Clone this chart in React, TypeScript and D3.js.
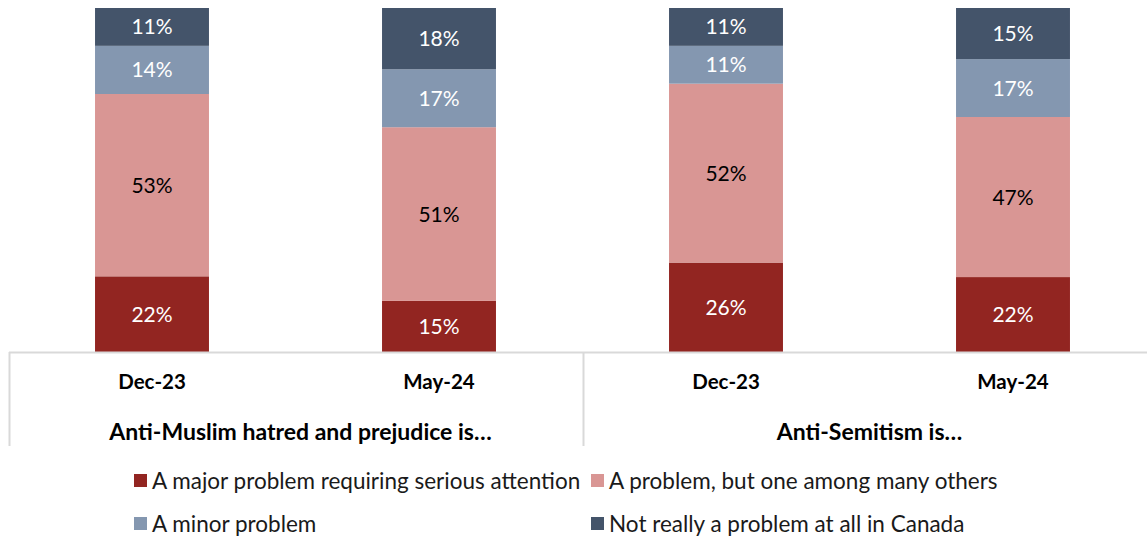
import { useRef, useEffect } from 'react';
import * as d3 from 'd3';

const categories = ['Dec-23', 'May-24', 'Dec-23', 'May-24'];
const groups = ['Anti-Muslim hatred and prejudice is…', 'Anti-Semitism is…'];
const seriesNames = [
  'A major problem requiring serious attention',
  'A problem, but one among many others',
  'A minor problem',
  'Not really a problem at all in Canada',
];
const major = [22, 15, 26, 22];
const problem = [53, 51, 52, 47];
const minor = [14, 17, 11, 17];
const notProblem = [11, 18, 11, 15];

const colors = ['#922521', '#d99694', '#8497b0', '#44546a'];
const labelColors = ['#fff', '#000', '#fff', '#fff'];

const W = 1147;
const H = 539;

export default function App() {
  const svgRef = useRef(null);

  useEffect(() => {
    const svg = d3.select(svgRef.current);
    svg.selectAll('*').remove();
    const font = 'Lato, "Open Sans", sans-serif';

    const series = [major, problem, minor, notProblem];
    const rows = categories.map((c, i) => {
      const total = d3.sum(series, s => s[i]);
      return { i, vals: series.map(s => s[i]), total };
    });

    const x = d3.scaleBand().domain(d3.range(4)).range([8.5, 1156.5]).paddingInner(0.603).paddingOuter(0.3015);
    const y = d3.scaleLinear().domain([0, 100]).range([352, 8]);

    // bars, each normalised to 100%
    rows.forEach(r => {
      let acc = 0;
      r.vals.forEach((v, k) => {
        const p0 = (acc / r.total) * 100;
        acc += v;
        const p1 = (acc / r.total) * 100;
        const g = svg.append('g');
        g.append('rect')
          .attr('x', x(r.i))
          .attr('width', x.bandwidth())
          .attr('y', y(p1))
          .attr('height', y(p0) - y(p1))
          .attr('fill', colors[k]);
        g.append('text')
          .attr('x', x(r.i) + x.bandwidth() / 2)
          .attr('y', (y(p0) + y(p1)) / 2)
          .attr('dy', '0.36em')
          .attr('text-anchor', 'middle')
          .attr('fill', labelColors[k])
          .style('font', `21px ${font}`)
          .text(`${v}%`);
      });
    });

    // axis frame
    const line = '#d9d9d9';
    svg.append('line').attr('x1', 9).attr('x2', W).attr('y1', 352.5).attr('y2', 352.5)
      .attr('stroke', line).attr('stroke-width', 2);
    [9.5, 583.5].forEach(px => {
      svg.append('line').attr('x1', px).attr('x2', px).attr('y1', 352).attr('y2', 446)
        .attr('stroke', line).attr('stroke-width', 2);
    });

    categories.forEach((c, i) => {
      svg.append('text')
        .attr('x', x(i) + x.bandwidth() / 2)
        .attr('y', 389)
        .attr('text-anchor', 'middle')
        .style('font', `bold 20.5px ${font}`)
        .text(c);
    });
    groups.forEach((gname, gi) => {
      const cx = (x(gi * 2) + x(gi * 2 + 1) + x.bandwidth()) / 2 + (gi === 0 ? 5 : 0);
      svg.append('text')
        .attr('x', cx)
        .attr('y', 440)
        .attr('text-anchor', 'middle')
        .style('font', `bold 23px ${font}`)
        .text(gname);
    });

    // legend
    const legendPos = [[134, 481], [591, 481], [134, 524], [591, 524]];
    seriesNames.forEach((name, k) => {
      const [lx, ly] = legendPos[k];
      svg.append('rect').attr('x', lx).attr('y', ly - 7).attr('width', 13).attr('height', 13).attr('fill', colors[k]);
      svg.append('text')
        .attr('x', lx + 18)
        .attr('y', ly)
        .attr('dy', '0.35em')
        .attr('fill', '#1a1a1a')
        .style('font', `22.5px ${font}`)
        .text(name);
    });
  }, []);

  return (
    <svg ref={svgRef} width={W} height={H} style={{ position: 'absolute', left: 0, top: 0, background: '#fff' }} />
  );
}
